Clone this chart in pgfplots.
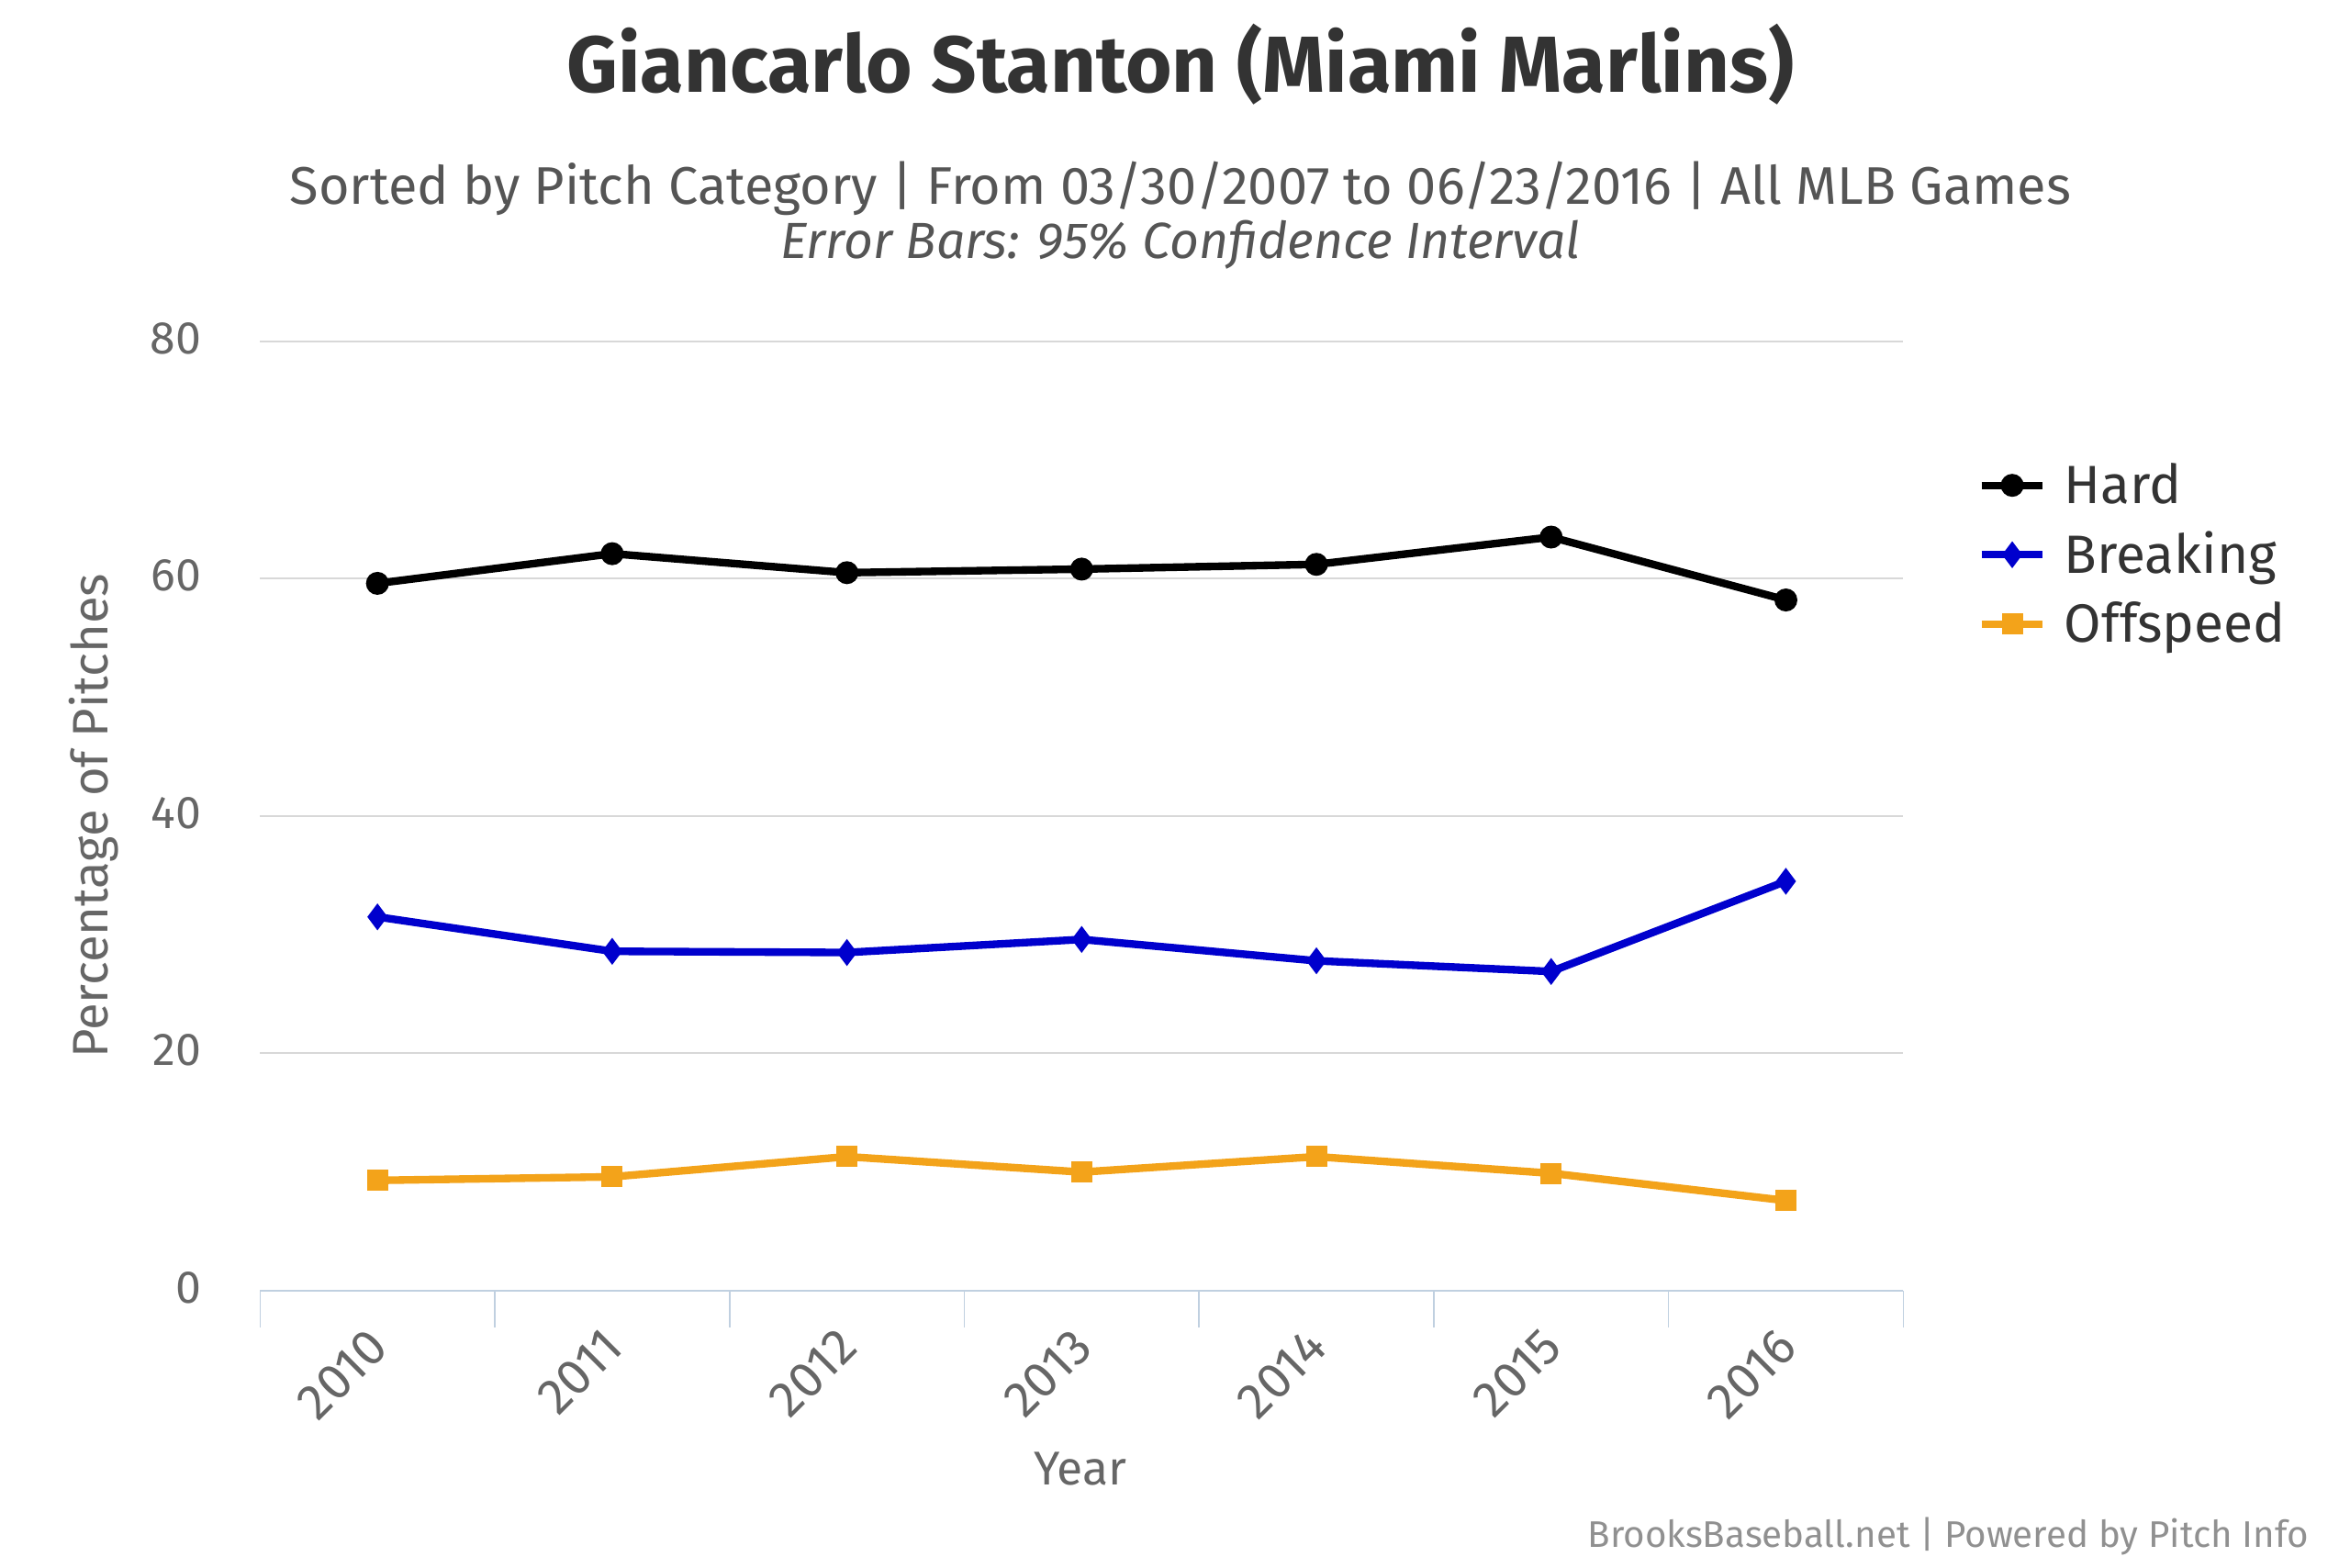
\documentclass[border=0pt]{standalone}
\usepackage{fontspec}
\setmainfont{Fira Sans}
\usepackage{pgfplots}
\pgfplotsset{compat=1.18}
\definecolor{titlec}{HTML}{333333}
\definecolor{subc}{HTML}{555555}
\definecolor{labc}{HTML}{666666}
\definecolor{credc}{HTML}{909090}
\definecolor{gridc}{HTML}{D8D8D8}
\definecolor{axisc}{HTML}{C0D0E0}
\definecolor{hardc}{RGB}{0,0,0}
\definecolor{breakc}{RGB}{0,0,205}
\definecolor{offc}{RGB}{243,163,26}
\begin{document}
\begin{tikzpicture}[x=1pt,y=1pt]
\path[use as bounding box] (0,0) rectangle (768,512.1);
\begin{axis}[
  at={(85pt,90.3pt)}, anchor=south west,
  scale only axis, width=537pt, height=310.3pt,
  xmin=-0.5, xmax=6.5, ymin=0, ymax=80,
  axis x line*=bottom, axis y line*=left,
  x axis line style={-, draw=axisc, line width=0.8pt},
  y axis line style={draw=none},
  xtick={0,1,2,3,4,5,6},
  xticklabels={2010,2011,2012,2013,2014,2015,2016},
  minor xtick={-0.5,0.5,1.5,2.5,3.5,4.5,5.5,6.5},
  major tick length=0pt, minor tick length=12pt,
  tick align=outside,
  minor x tick style={draw=axisc, line width=0.5pt},
  ytick style={draw=none},
  ytick={0,20,40,60,80},
  ymajorgrids, major grid style={draw=gridc, line width=0.6pt},
  /pgf/number format/assume math mode=true,
  yticklabel style={font=\fontsize{15}{15}\selectfont, text=labc, anchor=east, inner xsep=0pt, xshift=-19pt, yshift=1pt},
  xticklabel style={font=\fontsize{16.5}{16.5}\selectfont, text=labc, xshift=2.9pt, yshift=-13pt, rotate=45, anchor=east},
  ylabel={Percentage of Pitches}, xlabel={Year},
  label style={font=\fontsize{15.5}{15.5}\selectfont, text=labc},
  ylabel style={at={(axis description cs:-0.101,0.5)}, anchor=center, font=\fontsize{16.3}{16.3}\selectfont},
  xlabel style={at={(axis description cs:0.499,-0.188)}, anchor=center},
  legend style={at={(axis description cs:1.045,0.879)}, anchor=north west, draw=none, fill=none,
    font=\fontsize{17.6}{17.6}\selectfont, text=titlec, row sep=3.7pt, inner sep=0pt,
    /tikz/every odd column/.append style={column sep=3.8pt}},
  legend cell align=left,
  legend image code/.code={\draw[mark repeat=2,mark phase=2] plot coordinates {(0pt,0pt)(10pt,0pt)(20pt,0pt)};},
  every axis plot/.append style={line width=2.5pt},
  clip=false,
]
\addplot[color=hardc, mark=*, mark size=3.5pt, mark options={solid, line width=0.5pt}] coordinates {
 (0,59.6) (1,62.1) (2,60.5) (3,60.8) (4,61.2) (5,63.5) (6,58.2)};
\addlegendentry{Hard}
\addplot[color=breakc, mark=diamond*, mark size=4pt, mark options={solid, line width=0.5pt}] coordinates {
 (0,31.5) (1,28.6) (2,28.5) (3,29.6) (4,27.8) (5,26.9) (6,34.5)};
\addlegendentry{Breaking}
\addplot[color=offc, mark=square*, mark size=3.2pt, mark options={solid, line width=0.5pt}] coordinates {
 (0,9.3) (1,9.6) (2,11.3) (3,10.0) (4,11.3) (5,9.9) (6,7.6)};
\addlegendentry{Offspeed}
\end{axis}
\node[font=\bfseries\fontsize{26}{26}\selectfont, text=titlec] at (385.8,491) {Giancarlo Stanton (Miami Marlins)};
\node[font=\fontsize{17.3}{17.3}\selectfont, text=subc] at (385.8,450.6) {Sorted by Pitch Category | From 03/30/2007 to 06/23/2016 | All MLB Games};
\node[font=\itshape\fontsize{16.6}{16.6}\selectfont, text=subc] at (385.8,432) {Error Bars: 95\% Confidence Interval};
\node[font=\fontsize{12.1}{12.1}\selectfont, text=credc, anchor=east] at (758,10) {BrooksBaseball.net | Powered by Pitch Info};
\end{tikzpicture}
\end{document}
